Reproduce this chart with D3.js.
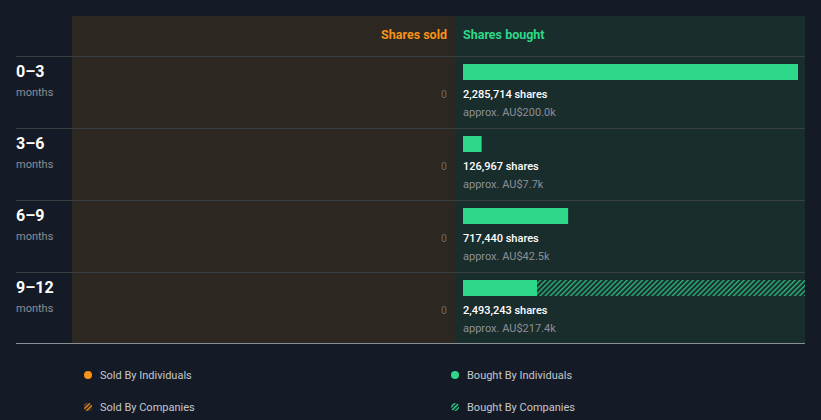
<!DOCTYPE html>
<html><head><meta charset="utf-8">
<script src="https://cdn.jsdelivr.net/npm/d3@7"></script>
<style>
html,body{margin:0;padding:0;background:#151b26;}
svg{display:block;font-family:Roboto,"Noto Sans",sans-serif;}
</style></head>
<body>
<svg id="chart" width="821" height="420"></svg>
<script>
const periods = ["0\u20133","3\u20136","6\u20139","9\u201312"];
const boughtIndividuals = [2285714,126967,717440,505000];
const boughtCompanies = [0,0,0,1988243];
const boughtTotalLabels = ["2,285,714 shares","126,967 shares","717,440 shares","2,493,243 shares"];
const boughtValueLabels = ["approx. AU$200.0k","approx. AU$7.7k","approx. AU$42.5k","approx. AU$217.4k"];
const soldValues = [0,0,0,0];
const legendItems = ["Sold By Individuals","Sold By Companies","Bought By Individuals","Bought By Companies"];

(function(){
const svg = d3.select("#chart");
const leftX=16,rightX=805,soldX0=72,mid=455,topY=16,headerH=40,rowH=72;
const bottomY=343;
const green="#2dd88a", orange="#f7931a";

const defs = svg.append("defs");
const pg = defs.append("pattern").attr("id","hatchG").attr("patternUnits","userSpaceOnUse")
  .attr("width",3.6).attr("height",4).attr("patternTransform","rotate(45)");
pg.append("rect").attr("width",1.4).attr("height",4).attr("fill","#2ab579");
const po = defs.append("pattern").attr("id","hatchO").attr("patternUnits","userSpaceOnUse")
  .attr("width",3).attr("height",3).attr("patternTransform","rotate(45)");
po.append("rect").attr("width",1.4).attr("height",3).attr("fill",orange);
const pg2 = defs.append("pattern").attr("id","hatchG2").attr("patternUnits","userSpaceOnUse")
  .attr("width",3).attr("height",3).attr("patternTransform","rotate(45)");
pg2.append("rect").attr("width",1.4).attr("height",3).attr("fill",green);
defs.append("clipPath").attr("id","clipB").append("rect")
  .attr("x",mid).attr("y",topY).attr("width",rightX-mid).attr("height",bottomY-topY);

svg.append("rect").attr("x",soldX0).attr("y",topY).attr("width",mid-soldX0).attr("height",bottomY-topY).attr("fill","#2c2721");
svg.append("rect").attr("x",mid).attr("y",topY).attr("width",rightX-mid).attr("height",bottomY-topY).attr("fill","#1a2d2d");

svg.append("text").attr("x",447).attr("y",39).attr("text-anchor","end").attr("fill",orange)
  .attr("font-size",12.5).attr("font-weight","bold").text("Shares sold");
svg.append("text").attr("x",463).attr("y",39).attr("fill",green)
  .attr("font-size",12.5).attr("font-weight","bold").text("Shares bought");

const y = d3.scaleBand().domain(periods).range([topY+headerH, topY+headerH+rowH*periods.length]);
const x = d3.scaleLinear().domain([0, d3.max(boughtIndividuals)]).range([0,335]);
const bx0 = 463;

svg.selectAll("line.sep").data(periods).enter().append("line")
  .attr("x1",leftX).attr("x2",rightX).attr("y1",d=>y(d)+0.5).attr("y2",d=>y(d)+0.5)
  .attr("stroke","#3a3f44").attr("stroke-width",1);
svg.append("line").attr("x1",leftX).attr("x2",rightX).attr("y1",bottomY+0.5).attr("y2",bottomY+0.5)
  .attr("stroke","#8a9097").attr("stroke-width",1);

const rows = svg.selectAll("g.row").data(periods).enter().append("g").attr("transform",d=>`translate(0,${y(d)})`);
rows.append("text").attr("x",16).attr("y",21).attr("fill","#ffffff").attr("font-size",16).attr("font-weight","bold").text(d=>d);
rows.append("text").attr("x",16).attr("y",40).attr("fill","#8a8f96").attr("font-size",11).text("months");
rows.append("text").attr("x",447).attr("y",42).attr("text-anchor","end").attr("fill","#6b6a68").attr("font-size",10.5).text((d,i)=>soldValues[i]);

const bars = svg.append("g").attr("clip-path","url(#clipB)");
bars.selectAll("rect.comp").data(periods).enter().append("rect")
  .attr("x",(d,i)=>bx0+x(boughtIndividuals[i])).attr("y",d=>y(d)+8)
  .attr("width",(d,i)=>x(boughtCompanies[i])).attr("height",16).attr("fill","url(#hatchG)");
bars.selectAll("rect.ind").data(periods).enter().append("rect")
  .attr("x",bx0).attr("y",d=>y(d)+8)
  .attr("width",(d,i)=>x(boughtIndividuals[i])).attr("height",16).attr("fill",green);

rows.append("text").attr("x",bx0).attr("y",42).attr("fill","#ffffff").attr("font-size",11).attr("font-weight","500").text((d,i)=>boughtTotalLabels[i]);
rows.append("text").attr("x",bx0).attr("y",60).attr("fill","#8a8f96").attr("font-size",11).text((d,i)=>boughtValueLabels[i]);

const leg = [
  {x:88,y:375,t:legendItems[0],fill:orange},
  {x:88,y:407,t:legendItems[1],fill:"url(#hatchO)"},
  {x:455,y:375,t:legendItems[2],fill:green},
  {x:455,y:407,t:legendItems[3],fill:"url(#hatchG2)"}
];
const lg = svg.selectAll("g.leg").data(leg).enter().append("g");
lg.append("circle").attr("cx",d=>d.x).attr("cy",d=>d.y).attr("r",4).attr("fill",d=>d.fill);
lg.append("text").attr("x",d=>d.x+12).attr("y",d=>d.y+4).attr("fill","#c4c7cb").attr("font-size",11).text(d=>d.t);
})();
</script>
</body></html>
